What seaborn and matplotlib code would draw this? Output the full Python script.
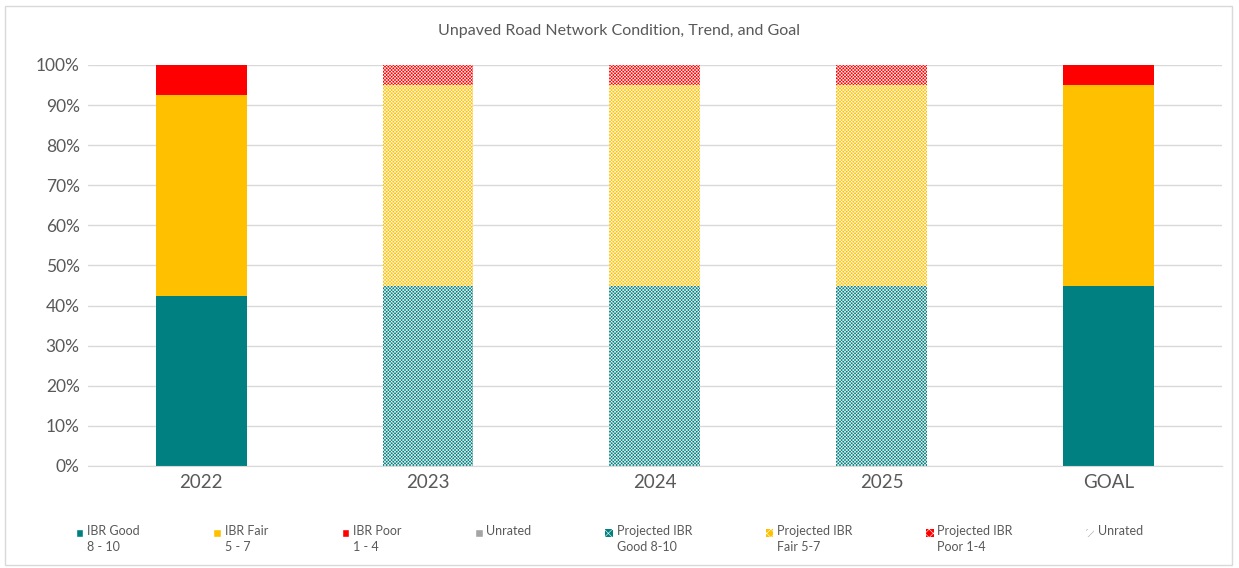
import numpy as np
import pandas as pd
import matplotlib
matplotlib.use("Agg")
import matplotlib.pyplot as plt
from matplotlib.patches import Patch, Rectangle
from matplotlib.legend_handler import HandlerPatch
import seaborn as sns

# chart data (percent of network)
years = ["2022", "2023", "2024", "2025", "GOAL"]
good = [42.5, 45, 45, 45, 45]
fair = [50, 50, 50, 50, 50]
poor = [7.5, 5, 5, 5, 5]
projected = [False, True, True, True, False]

legend_labels = ["IBR Good\n8 - 10", "IBR Fair\n5 - 7", "IBR Poor\n1 - 4", "Unrated\n ",
                 "Projected IBR\nGood 8-10", "Projected IBR\nFair 5-7",
                 "Projected IBR\nPoor 1-4", "Unrated\n "]

colors = {"good": "#008080", "fair": "#FFC000", "poor": "#FF0000", "unrated": "#A5A5A5"}

sns.set_style("white")
plt.rcParams["font.family"] = ["Lato", "DejaVu Sans"]
plt.rcParams["hatch.color"] = "white"
plt.rcParams["hatch.linewidth"] = 0.4

df = pd.DataFrame({"year": years, "good": good, "fair": fair, "poor": poor})

fig = plt.figure(figsize=(12.39, 5.68), dpi=100)
ax = fig.add_axes([0.071, 0.1796, 0.915, 0.7060])

bottom = np.zeros(len(years))
for key in ["good", "fair", "poor"]:
    sns.barplot(data=df, x="year", y=key, color=colors[key], width=0.4,
                bottom=bottom, saturation=1, linewidth=0, ax=ax)
    bottom = bottom + df[key].values

for cont in ax.containers:
    for patch, proj in zip(cont, projected):
        if proj:
            patch.set_hatch("x" * 10)

ax.set_ylim(0, 100)
ax.set_xlim(-0.5, 4.5)
ax.set_yticks(np.arange(0, 101, 10))
ax.set_yticklabels([f"{v}%" for v in range(0, 101, 10)])
ax.yaxis.grid(True, color="#D9D9D9", linewidth=1)
ax.set_axisbelow(True)
for s in ["left", "right", "top"]:
    ax.spines[s].set_visible(False)
ax.spines["bottom"].set_color("#D9D9D9")
ax.tick_params(axis="y", labelsize=12.5, colors="#595959", length=0, pad=6)
ax.tick_params(axis="x", labelsize=13.5, colors="#595959", length=0, pad=6)
ax.set_xlabel("")
ax.set_ylabel("")

fig.text(0.5, 0.945, "Unpaved Road Network Condition, Trend, and Goal",
         ha="center", va="center", fontsize=11.5, color="#595959")


# legend markers sit beside the first line of each label
def top_square(legend, orig_handle, xdescent, ydescent, width, height, fontsize):
    return Rectangle((-xdescent, -ydescent + 0.55 * fontsize), width, height)


handles = [
    Patch(facecolor=colors["good"]),
    Patch(facecolor=colors["fair"]),
    Patch(facecolor=colors["poor"]),
    Patch(facecolor=colors["unrated"]),
    Patch(facecolor=colors["good"], hatch="xxxx", linewidth=0),
    Patch(facecolor=colors["fair"], hatch="xxxx", linewidth=0),
    Patch(facecolor=colors["poor"], hatch="xxxx", linewidth=0),
    Patch(facecolor="white", edgecolor="#A5A5A5", hatch="////", linewidth=0),
]

leg = fig.legend(handles, legend_labels, loc="upper left", bbox_to_anchor=(0.052, 0.096),
                 ncol=8, frameon=False, fontsize=9, handlelength=0.6, handleheight=0.6,
                 handletextpad=0.3, columnspacing=5.9, labelcolor="#595959",
                 handler_map={Patch: HandlerPatch(patch_func=top_square)})
for t in leg.get_texts():
    t.set_linespacing(1.45)

fig.patches.append(Rectangle((0.004, 0.006), 0.99, 0.984, transform=fig.transFigure,
                             fill=False, edgecolor="#D9D9D9", linewidth=1))

fig.savefig("out.png", dpi=100, facecolor="white")
